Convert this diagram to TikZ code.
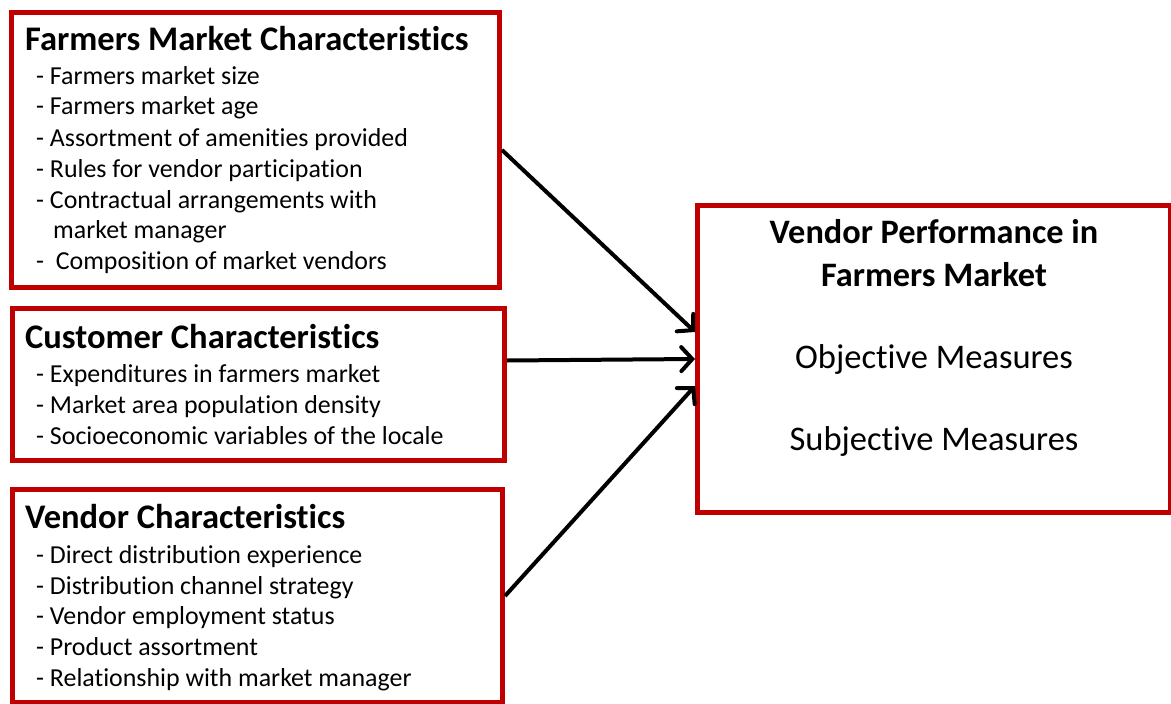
\documentclass[tikz,border=0pt]{standalone}
\usepackage{fontspec}
\setmainfont{Carlito}[Ligatures=NoCommon]
\usetikzlibrary{arrows.meta}
\definecolor{boxred}{RGB}{192,0,0}
\tikzset{
  redbox/.style={draw=boxred, line width=5pt, rectangle, inner sep=0pt, anchor=north west, fill=white},
  ttl/.style={anchor=base west, inner sep=0pt, font=\fontsize{34.5}{40}\selectfont\bfseries},
  itm/.style={anchor=base west, inner sep=0pt, font=\fontsize{25.9}{30}\selectfont},
  rttl/.style={anchor=base, inner sep=0pt, font=\fontsize{34.3}{40}\selectfont\bfseries},
  rtxt/.style={anchor=base, inner sep=0pt, font=\fontsize{34.5}{40}\selectfont},
  conn/.style={line width=4pt, -{Straight Barb[length=11pt,width=24pt,line cap=round]}},
}
\begin{document}
\begin{tikzpicture}[x=1pt,y=-1pt]
\useasboundingbox (0,0) rectangle (1171,704);
% boxes
\node[redbox, minimum width=488pt, minimum height=275pt] (fm) at (9,10) {};
\node[redbox, minimum width=492pt, minimum height=152pt] (cu) at (10,306) {};
\node[redbox, minimum width=490pt, minimum height=213pt] (ve) at (10,487) {};
\node[redbox, minimum width=473pt, minimum height=307pt] (vp) at (695,203) {};
% farmers market text
\node[ttl] (fmt) at (25,50) {Farmers Market Characteristics};
\node[itm] (fm1) at (36,84) {- Farmers market size};
\node[itm] (fm2) at (36,114) {- Farmers market age};
\node[itm] (fm3) at (36,146) {- Assortment of amenities provided};
\node[itm] (fm4) at (36,177) {- Rules for vendor participation};
\node[itm] (fm5) at (36,208) {- Contractual arrangements with};
\node[itm] (fm6) at (53,238) {market manager};
\node[itm] (fm7) at (36,269) {-\ \ Composition of market vendors};
% customer text
\node[ttl] (cut) at (25,348) {Customer Characteristics};
\node[itm] (cu1) at (36,382) {- Expenditures in farmers market};
\node[itm] (cu2) at (36,413) {- Market area population density};
\node[itm] (cu3) at (36,444) {- Socioeconomic variables of the locale};
% vendor text
\node[ttl] (vet) at (25,528) {Vendor Characteristics};
\node[itm] (ve1) at (36,563) {- Direct distribution experience};
\node[itm] (ve2) at (36,594) {- Distribution channel strategy};
\node[itm] (ve3) at (36,624) {- Vendor employment status};
\node[itm] (ve4) at (36,655) {- Product assortment};
\node[itm] (ve5) at (36,686) {- Relationship with market manager};
% right box text
\node[rttl] (vp1) at (934,243) {Vendor Performance in};
\node[rttl] (vp2) at (934,286) {Farmers Market};
\node[rtxt] (vp3) at (934,368) {Objective Measures};
\node[rtxt] (vp4) at (934,450) {Subjective Measures};
% connectors
\draw[conn] (fm.east) -- ([yshift=27pt]vp.west);
\draw[conn] ([yshift=24pt]cu.east) -- (vp.west);
\draw[conn] (ve.east) -- ([yshift=-27pt]vp.west);
\end{tikzpicture}
\end{document}
